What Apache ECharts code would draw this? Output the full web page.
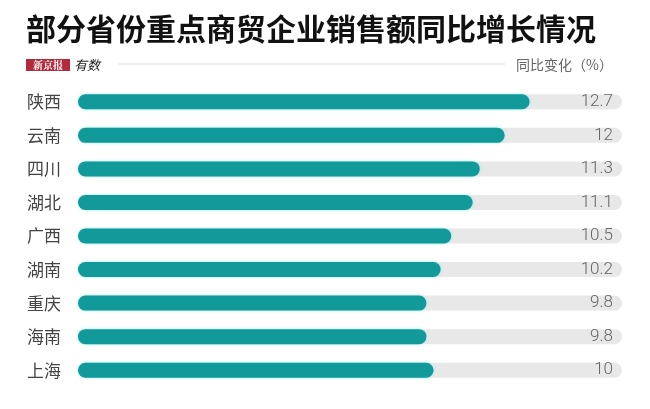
<!DOCTYPE html>
<html>
<head>
<meta charset="utf-8">
<script src="https://cdn.jsdelivr.net/npm/echarts@6/dist/echarts.min.js"></script>
<style>
    html, body { margin: 0; padding: 0; background: #fff; }
    #main { width: 650px; height: 409px; }
</style>
</head>
<body>
<div id="main"></div>
<script>
var provinces = ['陕西', '云南', '四川', '湖北', '广西', '湖南', '重庆', '海南', '上海'];
var growth = [12.7, 12, 11.3, 11.1, 10.5, 10.2, 9.8, 9.8, 10];

var font = '"Noto Sans CJK SC", sans-serif';
var chart = echarts.init(document.getElementById('main'));

var option = {
    backgroundColor: '#fff',
    animation: false,
    title: {
        text: '部分省份重点商贸企业销售额同比增长情况',
        left: 21,
        top: 9,
        textStyle: {
            fontFamily: font,
            fontSize: 30,
            fontWeight: 'bold',
            color: '#111'
        }
    },
    graphic: [
        // logo
        {
            type: 'rect',
            shape: { x: 26, y: 59, width: 44, height: 12 },
            style: { fill: '#b22a3c' }
        },
        {
            type: 'text',
            style: {
                x: 48, y: 65, text: '新京报',
                font: 'bold 10px "Noto Serif CJK SC", "Noto Sans CJK SC", serif',
                fill: '#fff', align: 'center', verticalAlign: 'middle'
            }
        },
        {
            type: 'text',
            style: {
                x: 74, y: 65, text: '有数',
                font: 'italic 13px ' + font,
                fill: '#222', align: 'left', verticalAlign: 'middle'
            }
        },
        {
            type: 'line',
            shape: { x1: 118, y1: 64, x2: 505, y2: 64 },
            style: { stroke: '#dddddd', lineWidth: 1 }
        },
        {
            type: 'text',
            style: {
                x: 613, y: 65, text: '同比变化（%）',
                font: '14px ' + font,
                fill: '#666', align: 'right', verticalAlign: 'middle'
            }
        }
    ],
    grid: {
        left: 78,
        right: 28,
        top: 85,
        bottom: 22
    },
    xAxis: {
        type: 'value',
        min: 0,
        max: 15.3,
        show: false
    },
    yAxis: [{
        type: 'category',
        data: provinces,
        inverse: true,
        axisLine: { show: false },
        axisTick: { show: false },
        axisLabel: {
            margin: 17,
            fontFamily: font,
            fontSize: 17,
            color: '#444'
        }
    }, {
        type: 'category',
        data: growth.map(String),
        inverse: true,
        position: 'right',
        z: 10,
        axisLine: { show: false },
        axisTick: { show: false },
        axisLabel: {
            inside: true,
            margin: 9,
            fontFamily: 'Roboto, "Liberation Sans", sans-serif',
            fontWeight: 300,
            fontSize: 17,
            color: '#666'
        }
    }],
    series: [{
        name: '同比变化',
        type: 'bar',
        data: growth,
        barWidth: 15,
        showBackground: true,
        backgroundStyle: {
            color: '#e8e8e8',
            borderRadius: 7.5
        },
        itemStyle: {
            color: '#12999a',
            borderRadius: 7.5,
            shadowColor: 'rgba(110, 235, 235, 0.7)',
            shadowBlur: 3
        }
    }]
};

chart.setOption(option);
</script>
</body>
</html>
